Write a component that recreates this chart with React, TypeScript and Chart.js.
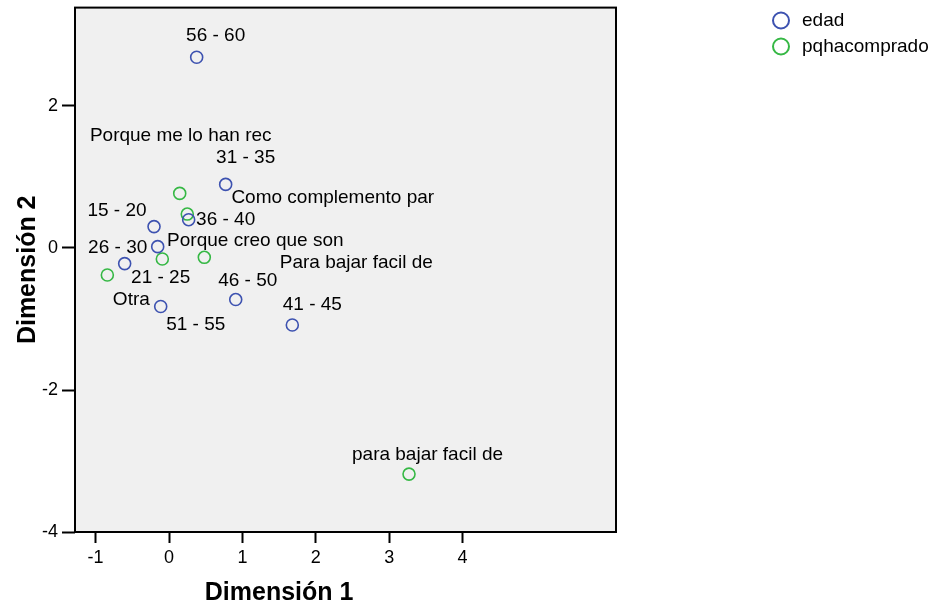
import React, { useEffect, useRef } from "react";
import { Chart, registerables } from "chart.js";

Chart.register(...registerables);

// ---- data ----
const EDAD_LABELS = ["15 - 20", "21 - 25", "26 - 30", "31 - 35", "36 - 40", "41 - 45", "46 - 50", "51 - 55", "56 - 60"];
const EDAD_DIM1 = [-0.204, -0.604, -0.154, 0.772, 0.268, 1.68, 0.909, -0.113, 0.377];
const EDAD_DIM2 = [0.3, -0.22, 0.018, 0.893, 0.397, -1.083, -0.726, -0.824, 2.681];

const PQ_LABELS = ["Porque me lo han rec", "Como complemento par", "Porque creo que son", "Para bajar facil de", "Otra", "para bajar facil de"];
const PQ_DIM1 = [0.146, 0.249, -0.091, 0.481, -0.84, 3.27];
const PQ_DIM2 = [0.767, 0.476, -0.156, -0.132, -0.381, -3.18];

const SERIES_NAMES = ["edad", "pqhacomprado"];
const X_TICKS = [-1, 0, 1, 2, 3, 4];
const Y_TICKS = [-4, -2, 0, 2];
const X_TITLE = "Dimensión 1";
const Y_TITLE = "Dimensión 2";

// ---- styling ----
const FONT_FAMILY = '"Liberation Sans", Arial, Helvetica, sans-serif';
const BLUE = "#3D52B0";
const GREEN = "#36B845";
const LABEL_OFFSETS = [
  [[-37, -16], [36, 14], [-40, 1], [20, -27], [37, 0], [20, -20], [12, -19], [35, 18], [19, -21]],
  [[1, -58], [145.5, -16], [93, -18], [152, 5], [24, 25], [18.5, -19]],
];
const SERIES_LABELS = [EDAD_LABELS, PQ_LABELS];

const decorPlugin = {
  id: "decor",
  beforeDraw(chart: any) {
    const { ctx, chartArea: a } = chart;
    ctx.save();
    ctx.fillStyle = "#F0F0F0";
    ctx.fillRect(a.left, a.top, a.right - a.left, a.bottom - a.top);
    ctx.restore();
  },
  afterDraw(chart: any) {
    const { ctx, chartArea: a } = chart;
    ctx.save();
    // frame
    ctx.strokeStyle = "#000";
    ctx.lineWidth = 2;
    ctx.strokeRect(a.left, a.top, a.right - a.left, a.bottom - a.top);

    // point labels
    ctx.fillStyle = "#000";
    ctx.font = `19px ${FONT_FAMILY}`;
    ctx.textAlign = "center";
    ctx.textBaseline = "middle";
    chart.data.datasets.forEach((ds: any, di: number) => {
      const meta = chart.getDatasetMeta(di);
      meta.data.forEach((pt: any, i: number) => {
        const off = LABEL_OFFSETS[di][i];
        ctx.fillText(SERIES_LABELS[di][i], pt.x + off[0], pt.y + off[1]);
      });
    });

    // legend
    chart.data.datasets.forEach((ds: any, di: number) => {
      const cy = 20.5 + di * 26;
      ctx.beginPath();
      ctx.arc(781, cy, 8, 0, Math.PI * 2);
      ctx.strokeStyle = ds.borderColor;
      ctx.lineWidth = 2;
      ctx.stroke();
      ctx.fillStyle = "#000";
      ctx.textAlign = "left";
      ctx.textBaseline = "middle";
      ctx.font = `19px ${FONT_FAMILY}`;
      ctx.fillText(ds.label, 802, cy);
    });

    // axis titles
    const xs = chart.scales.x;
    const cx = (xs.getPixelForValue(X_TICKS[0]) + xs.getPixelForValue(X_TICKS[X_TICKS.length - 1])) / 2;
    ctx.font = `bold 25px ${FONT_FAMILY}`;
    ctx.textAlign = "center";
    ctx.textBaseline = "alphabetic";
    ctx.fillText(X_TITLE, cx, 600);

    ctx.translate(35, (a.top + a.bottom) / 2);
    ctx.rotate(-Math.PI / 2);
    ctx.fillText(Y_TITLE, 0, 0);
    ctx.restore();
  },
};

export default function App() {
  const ref = useRef<HTMLCanvasElement | null>(null);

  useEffect(() => {
    if (!ref.current) return;
    Chart.defaults.font.family = FONT_FAMILY;
    const chart = new Chart(ref.current, {
      type: "scatter",
      data: {
        datasets: [
          {
            label: SERIES_NAMES[0],
            data: EDAD_DIM1.map((x, i) => ({ x, y: EDAD_DIM2[i] })),
            borderColor: BLUE,
            backgroundColor: "rgba(0,0,0,0)",
            pointRadius: 6,
            borderWidth: 1.6,
          },
          {
            label: SERIES_NAMES[1],
            data: PQ_DIM1.map((x, i) => ({ x, y: PQ_DIM2[i] })),
            borderColor: GREEN,
            backgroundColor: "rgba(0,0,0,0)",
            pointRadius: 6,
            borderWidth: 1.6,
          },
        ],
      },
      options: {
        responsive: false,
        animation: false,
        layout: { padding: { left: 0, top: 7, right: 318, bottom: 0 } },
        plugins: { legend: { display: false }, tooltip: { enabled: false } },
        scales: {
          x: {
            type: "linear",
            min: -1.2807,
            max: 6.09,
            afterFit: (s: any) => {
              s.height = 72;
              s.paddingLeft = 0;
              s.paddingRight = 0;
              s.paddingTop = 0;
              s.paddingBottom = 0;
            },
            afterBuildTicks: (s: any) => {
              s.ticks = X_TICKS.map((v) => ({ value: v }));
            },
            grid: { display: true, drawOnChartArea: false, drawTicks: true, tickLength: 11, tickWidth: 2, tickColor: "#000" },
            border: { display: false },
            ticks: { padding: 4, color: "#000", font: { size: 18 }, maxRotation: 0, autoSkip: false, callback: (v: any) => String(v) },
          },
          y: {
            type: "linear",
            min: -3.994,
            max: 3.379,
            afterFit: (s: any) => {
              s.width = 75;
              s.paddingLeft = 0;
              s.paddingRight = 0;
              s.paddingTop = 0;
              s.paddingBottom = 0;
            },
            afterBuildTicks: (s: any) => {
              s.ticks = Y_TICKS.map((v) => ({ value: v }));
            },
            grid: { display: true, drawOnChartArea: false, drawTicks: true, tickLength: 13, tickWidth: 2, tickColor: "#000" },
            border: { display: false },
            ticks: { padding: 4, color: "#000", font: { size: 18 }, autoSkip: false, callback: (v: any) => String(v) },
          },
        },
      },
      plugins: [decorPlugin],
    } as any);
    return () => chart.destroy();
  }, []);

  return (
    <div style={{ position: "absolute", left: 0, top: 0, width: 934, height: 604, background: "#fff" }}>
      <canvas ref={ref} width={934} height={604} style={{ display: "block", width: 934, height: 604 }} />
    </div>
  );
}
